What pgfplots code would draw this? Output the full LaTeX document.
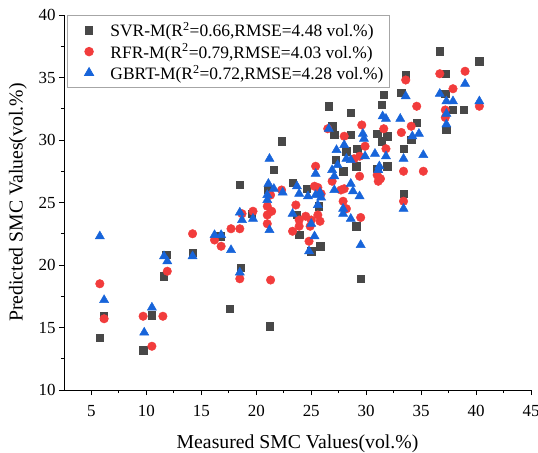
\documentclass[border=0pt]{standalone}
\usepackage{fontspec}
\setmainfont{Liberation Serif}
\usepackage{pgfplots}
\pgfplotsset{compat=1.18}
\definecolor{svr}{HTML}{484848}
\definecolor{rfr}{HTML}{F23C3C}
\definecolor{gbrt}{HTML}{1764DA}
\pgfplotsset{wideleg/.style={legend image code/.code={\path (0bp,0bp) (36bp,0bp); \draw[mark repeat=2,mark phase=2,##1] plot coordinates {(0bp,0bp) (17bp,0bp) (34bp,0bp)};}}}
\begin{document}
\begin{tikzpicture}
\begin{axis}[
  at={(0,0)}, anchor=south west,
  scale only axis, width=467bp, height=375bp,
  xmin=2.5, xmax=45, ymin=10, ymax=40,
  xtick={5,10,...,45}, ytick={10,15,...,40},
  minor tick num=1,
  axis x line=bottom, axis y line=left,
  axis line style={-, line width=1bp, black},
  tick align=outside,
  major tick length=5bp, minor tick length=3bp,
  tick style={line width=0.9bp, black},
  ticklabel style={font=\fontsize{17}{17}\selectfont},
  xticklabel style={yshift=-7bp},
  /pgf/number format/assume math mode=true,
  xlabel={Measured SMC Values(vol.\%)},
  ylabel={Predicted SMC Values(vol.\%)},
  label style={font=\fontsize{19.8}{19.8}\selectfont},
  xlabel style={at={(axis description cs:0.5,-0.143)}, anchor=center},
  ylabel style={at={(axis description cs:-0.0985,0.5)}, anchor=center},
  legend style={at={(axis description cs:0.007,1.0)}, anchor=north west,
    draw=gray!70, line width=0.8bp, font=\fontsize{17.5}{17.5}\selectfont,
    inner xsep=4bp, inner ysep=5bp, row sep=1.5bp},
  legend cell align=left,
  every axis plot post/.append style={wideleg},
]
\addplot[only marks, mark=square*, mark size=3.7bp, color=svr, mark options={draw=svr, fill=svr}] table {
x y
5.76 14.2
6.1 15.9
9.7 13.2
10.5 16.0
11.6 19.1
11.8 20.8
14.2 21.0
16.7 22.3
17.6 16.5
18.5 26.4
18.6 19.8
19.6 24.1
21.1 26.0
21.2 15.1
21.6 27.6
22.3 29.9
23.3 26.6
23.7 24.0
23.9 22.4
24.6 26.1
25.0 21.1
25.7 24.7
25.8 21.5
26.6 32.7
26.9 31.1
27.1 30.4
27.2 28.4
27.9 27.5
28.2 29.1
28.6 32.2
28.6 30.4
29.1 27.9
29.1 23.1
29.2 29.3
29.5 18.9
31.0 30.5
31.4 29.9
31.9 30.3
31.0 27.7
31.9 27.9
31.4 32.8
31.6 33.6
33.2 33.8
33.4 29.3
33.4 25.7
33.6 35.2
34.1 30.0
34.6 31.4
36.7 37.1
37.2 33.7
37.25 35.3
37.9 32.4
38.9 32.4
37.3 30.8
40.3 36.3
};
\addlegendentry{SVR-M(R\textsuperscript{2}=0.66,RMSE=4.48 vol.\%)}
\addplot[only marks, mark=*, mark size=4.3bp, color=rfr, mark options={draw=rfr, fill=rfr}] table {
x y
5.76 18.5
6.15 15.7
9.7 15.9
10.5 13.5
11.5 15.9
11.9 19.5
14.2 22.5
16.2 22.0
16.8 21.5
17.7 22.9
18.5 22.9
18.5 18.9
18.7 24.1
19.7 24.3
21.0 24.7
21.0 24.0
21.0 23.3
21.4 24.3
21.3 18.8
21.3 25.6
22.3 26.0
23.6 24.8
23.9 23.6
23.9 23.1
23.3 22.7
24.5 23.9
24.9 23.1
25.0 23.6
25.6 24.0
25.8 23.5
24.8 21.9
25.3 26.3
25.6 26.2
25.9 25.7
25.4 27.9
26.9 26.7
27.7 26.0
28.0 26.1
27.9 25.1
28.2 24.5
26.5 30.9
28.0 30.3
29.6 31.2
29.9 29.5
28.9 28.5
29.4 28.7
29.4 27.1
29.5 23.8
31.0 27.2
31.3 26.9
31.1 26.7
31.6 30.9
31.8 29.3
33.2 30.6
33.4 27.5
33.4 25.1
33.6 34.8
34.1 31.1
34.6 32.7
35.2 27.5
36.7 35.3
37.9 34.1
37.2 32.4
37.2 31.8
39.0 35.5
40.3 32.7
};
\addlegendentry{RFR-M(R\textsuperscript{2}=0.79,RMSE=4.03 vol.\%)}
\addplot[only marks, mark=triangle*, mark size=5.3bp, color=gbrt, mark options={draw=gbrt, fill=gbrt}] table {
x y
5.76 22.3
6.15 17.2
9.8 14.6
10.5 16.6
11.6 20.7
11.9 20.3
14.2 20.7
16.2 22.4
16.8 22.4
17.7 21.2
18.5 19.4
18.5 24.2
18.7 23.6
19.7 23.7
21.0 25.6
21.0 25.2
21.1 26.5
21.6 26.1
21.2 22.8
21.2 28.5
22.4 25.8
23.3 24.1
23.7 26.3
23.9 25.7
24.7 25.5
25.4 25.6
25.8 25.8
25.9 25.4
25.6 24.8
25.0 23.3
25.3 22.3
24.8 21.1
25.4 27.3
26.6 30.9
27.1 26.0
27.1 27.1
26.9 27.6
27.4 28.0
27.3 29.2
28.0 29.6
28.2 28.5
28.6 28.4
28.6 26.5
28.8 25.9
29.4 25.5
27.9 24.5
27.9 24.1
28.6 23.7
29.5 21.6
29.7 30.5
29.8 30.1
29.9 28.7
30.8 28.9
31.2 27.9
31.1 27.6
31.5 31.9
31.8 31.7
31.8 28.7
33.1 31.7
33.4 28.5
33.4 24.5
33.6 33.5
34.2 30.3
34.8 30.5
35.2 28.8
36.7 33.7
37.3 33.1
37.9 33.1
37.3 32.1
37.3 31.25
39.0 34.5
40.3 33.1
};
\addlegendentry{GBRT-M(R\textsuperscript{2}=0.72,RMSE=4.28 vol.\%)}
\end{axis}
\pgfresetboundingbox
\path (-64bp,-63bp) rectangle (474bp,390bp);
\end{tikzpicture}
\end{document}
